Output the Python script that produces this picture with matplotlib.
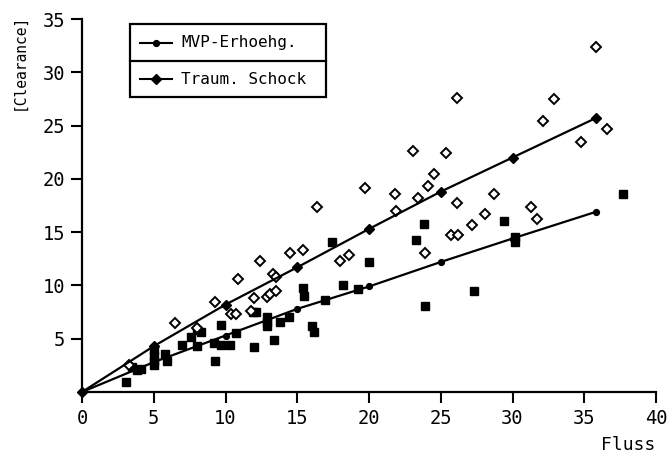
import matplotlib
matplotlib.use("Agg")
import matplotlib.pyplot as plt
from matplotlib.lines import Line2D
from matplotlib.patches import Rectangle

plt.rcParams['font.family'] = ['DejaVu Sans Mono', 'DejaVu Sans']

# Measured points: MVP-Erhoehg. (filled squares)
mvp_x = [3.1, 3.5, 3.8, 4.1, 5.0, 5.0, 5.0, 5.0, 5.8, 5.9, 7.0, 7.6, 8.0, 8.3,
         8.0, 9.2, 9.3, 9.7, 9.7, 10.3, 10.7, 12.1, 11.9, 12.0, 12.9, 12.9, 12.9,
         13.4, 13.8, 14.4, 15.4, 15.5, 16.0, 16.2, 16.9, 17.4, 18.2, 19.2, 20.0,
         23.3, 23.8, 23.9, 27.3, 29.4, 30.2, 30.2, 37.7]
mvp_y = [0.9, 2.3, 2.1, 2.2, 3.9, 3.4, 2.9, 2.5, 3.6, 2.9, 4.4, 5.2, 5.8, 5.6,
         4.3, 4.6, 2.9, 6.3, 4.4, 4.4, 5.5, 7.5, 7.5, 4.2, 7.0, 6.6, 6.2,
         4.9, 6.6, 7.0, 9.8, 9.0, 6.2, 5.6, 8.6, 14.1, 10.0, 9.7, 12.2,
         14.3, 15.8, 8.1, 9.5, 16.0, 14.5, 14.1, 18.6]

# Measured points: Traum. Schock (open diamonds)
ts_x = [3.3, 6.5, 8.0, 9.3, 10.4, 10.7, 10.9, 11.8, 12.0, 12.4, 12.9, 13.1,
        13.3, 13.5, 13.5, 14.5, 15.4, 16.4, 18.0, 18.6, 19.7, 21.8, 21.9, 23.1,
        23.4, 23.9, 24.1, 24.5, 25.4, 25.7, 26.2, 26.1, 26.1, 27.2, 28.1, 28.7,
        31.3, 31.7, 32.1, 32.9, 34.8, 35.8, 36.6]
ts_y = [2.5, 6.5, 6.0, 8.4, 7.3, 7.3, 10.6, 7.6, 8.8, 12.3, 8.9, 9.2,
        11.1, 9.5, 10.8, 13.0, 13.3, 17.4, 12.3, 12.9, 19.1, 18.6, 17.0, 22.6,
        18.2, 13.0, 19.3, 20.5, 22.4, 14.7, 14.7, 17.7, 27.6, 15.7, 16.7, 18.6,
        17.4, 16.2, 25.4, 27.5, 23.5, 32.4, 24.7]

# Fitted curves, sampled at the marked positions
fit_x = [0, 5, 10, 15, 20, 25, 30, 35.8]
mvp_fit_y = [0, 2.8, 5.3, 7.8, 9.9, 12.2, 14.4, 16.9]
ts_fit_y = [0, 4.3, 8.2, 11.7, 15.3, 18.8, 22.0, 25.7]

x_ticks = [0, 5, 10, 15, 20, 25, 30, 35, 40]
y_ticks = [5, 10, 15, 20, 25, 30, 35]
series_names = ["MVP-Erhoehg.", "Traum. Schock"]

W, H = 672, 455
fig = plt.figure(figsize=(W / 100, H / 100), dpi=100)
ax = fig.add_axes([82 / W, 1 - 392 / H, 574 / W, 373 / H])

ax.set_xlim(0, 40)
ax.set_ylim(0, 35)

ax.plot(mvp_x, mvp_y, linestyle='none', marker='s', markersize=5.2,
        markerfacecolor='black', markeredgecolor='black', clip_on=False)
ax.plot(ts_x, ts_y, linestyle='none', marker='D', markersize=5.2,
        markerfacecolor='white', markeredgecolor='black', markeredgewidth=1.4,
        clip_on=False)

ax.plot(fit_x, mvp_fit_y, color='black', linewidth=1.6, marker='o',
        markersize=4.2, clip_on=False)
ax.plot(fit_x, ts_fit_y, color='black', linewidth=1.6, marker='D',
        markersize=4.6, clip_on=False)

for side in ('top', 'right'):
    ax.spines[side].set_visible(False)
for side in ('left', 'bottom'):
    ax.spines[side].set_linewidth(1.6)

ax.set_xticks(x_ticks)
ax.set_xticklabels([str(v) for v in x_ticks])
ax.set_yticks(y_ticks)
ax.set_yticklabels([str(v) for v in y_ticks])
ax.tick_params(direction='out', length=8, width=1.5, labelsize=13.5, pad=4)

fig.text(19 / W, 1 - 62 / H, "[Clearance]", rotation=90, ha='center',
         va='center', fontsize=10.5)
fig.text(655 / W, 1 - 445 / H, "Fluss", ha='right', va='center', fontsize=13)

# Boxed legend with a divider between the two entries
def fx(px):
    return px / W

def fy(py):
    return 1 - py / H

fig.patches.append(Rectangle((fx(130), fy(97)), (326 - 130) / W, (97 - 24) / H,
                             transform=fig.transFigure, fill=False,
                             edgecolor='black', linewidth=1.6))
fig.lines.append(Line2D([fx(130), fx(326)], [fy(61), fy(61)],
                        transform=fig.transFigure, color='black', linewidth=1.6))
for row_y, mk, ms, name in [(43, 'o', 4.2, series_names[0]),
                            (79, 'D', 4.6, series_names[1])]:
    fig.lines.append(Line2D([fx(140), fx(172)], [fy(row_y), fy(row_y)],
                            transform=fig.transFigure, color='black',
                            linewidth=1.5))
    fig.lines.append(Line2D([fx(156)], [fy(row_y)], transform=fig.transFigure,
                            color='black', marker=mk, markersize=ms,
                            linestyle='none'))
    fig.text(fx(181), fy(row_y), name, ha='left', va='center', fontsize=11.5)

fig.savefig("out.png", dpi=100)
